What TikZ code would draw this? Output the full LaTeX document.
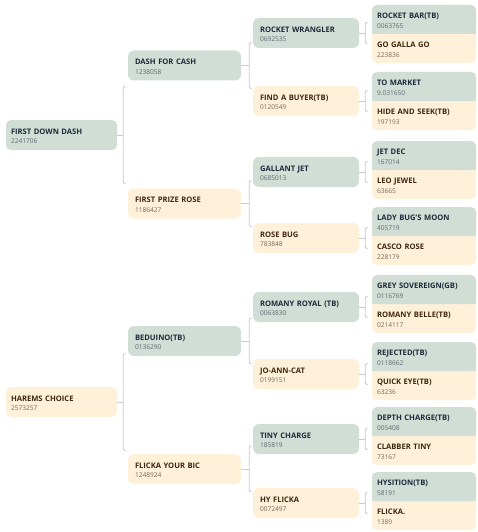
\documentclass[tikz,border=0pt]{standalone}
\usepackage{fontspec}
\setmainfont{Open Sans}
\usetikzlibrary{calc}
\definecolor{gfill}{RGB}{208,222,214}
\definecolor{bfill}{RGB}{255,240,218}
\definecolor{gname}{RGB}{30,42,58}
\definecolor{gnum}{RGB}{95,105,112}
\definecolor{bname}{RGB}{62,38,16}
\definecolor{bnum}{RGB}{120,104,88}
\definecolor{conncol}{RGB}{200,203,202}
\newcommand\hname[2]{\rule{0pt}{7.6pt}{\bfseries #1}\\{\fontsize{6.6}{9.5}\selectfont\color{\numcol}#2}}
\newcommand\hbracket[3]{%
  \draw[conn] (#1.east) -- ++(#2,0);
  \draw[conn, rounded corners=2] ($(#1.east)+(#2+2.5,-#3)$) -- ++(-2.5,0) -- ++(0,2*#3) -- ++(2.5,0);}
\newcommand\hpair[1]{%
  \fill[bfill, rounded corners=5] (372,#1-29) rectangle (476,#1+29);
  \fill[gfill, rounded corners=5] (372,#1-29) rectangle (476,#1);
  \fill[gfill] (372,#1-6) rectangle (476,#1);}
\begin{document}
\begin{tikzpicture}[x=1pt,y=-1pt,
  font=\fontsize{7.6}{9.5}\selectfont,
  conn/.style={draw=conncol, line width=0.9pt},
  gbox/.style={fill=gfill, text=gname, execute at begin node={\def\numcol{gnum}}},
  bbox/.style={fill=bfill, text=bname, execute at begin node={\def\numcol{bnum}}},
  gone/.style={rounded corners=5, align=left, minimum height=30, minimum width=111, text width=101, inner xsep=5},
  gtwo/.style={rounded corners=6, align=left, minimum height=30, minimum width=113, text width=99, inner xsep=7},
  gthree/.style={rounded corners=6, align=left, minimum height=30, minimum width=106, text width=92, inner xsep=7},
  gfour/.style={align=left, minimum height=29, minimum width=104, text width=94, inner xsep=5, fill=none},
]
\useasboundingbox (0,0) rectangle (477,532);

% generation 1
\node[gone, gbox] (fdd) at (61.5,135) {\hname{FIRST DOWN DASH}{2241706}};
\node[gone, bbox] (hc) at (61.5,402) {\hname{HAREMS CHOICE}{2573257}};

% generation 2
\node[gtwo, gbox] (dfc) at (184.5,65.5) {\hname{DASH FOR CASH}{1238058}};
\node[gtwo, bbox] (fpr) at (184.5,203.5) {\hname{FIRST PRIZE ROSE}{1186427}};
\node[gtwo, gbox] (bed) at (184.5,341) {\hname{BEDUINO(TB)}{0136290}};
\node[gtwo, bbox] (fyb) at (184.5,469) {\hname{FLICKA YOUR BIC}{1248924}};

% generation 3
\node[gthree, gbox] (rw) at (306,33) {\hname{ROCKET WRANGLER}{0692535}};
\node[gthree, bbox] (fab) at (306,101) {\hname{FIND A BUYER(TB)}{0120549}};
\node[gthree, gbox] (gj) at (306,172) {\hname{GALLANT JET}{0685013}};
\node[gthree, bbox] (rbug) at (306,238) {\hname{ROSE BUG}{783848}};
\node[gthree, gbox] (rr) at (306,307) {\hname{ROMANY ROYAL (TB)}{0063830}};
\node[gthree, bbox] (jac) at (306,374) {\hname{JO-ANN-CAT}{0199151}};
\node[gthree, gbox] (tc) at (306,439) {\hname{TINY CHARGE}{185819}};
\node[gthree, bbox] (hf) at (306,503) {\hname{HY FLICKA}{0072497}};

% generation 4 backgrounds
\hpair{34}
\hpair{101}
\hpair{170}
\hpair{236}
\hpair{304}
\hpair{371}
\hpair{436}
\hpair{501}

% generation 4
\node[gfour, gbox, fill=none] (rbar) at (424,19.5) {\hname{ROCKET BAR(TB)}{0063765}};
\node[gfour, bbox, fill=none] (ggg) at (424,48.5) {\hname{GO GALLA GO}{223836}};
\node[gfour, gbox, fill=none] (tm) at (424,86.5) {\hname{TO MARKET}{9.031650}};
\node[gfour, bbox, fill=none] (has) at (424,115.5) {\hname{HIDE AND SEEK(TB)}{197193}};
\node[gfour, gbox, fill=none] (jd) at (424,155.5) {\hname{JET DEC}{167014}};
\node[gfour, bbox, fill=none] (lj) at (424,184.5) {\hname{LEO JEWEL}{63665}};
\node[gfour, gbox, fill=none] (lbm) at (424,221.5) {\hname{LADY BUG'S MOON}{405719}};
\node[gfour, bbox, fill=none] (cr) at (424,250.5) {\hname{CASCO ROSE}{228179}};
\node[gfour, gbox, fill=none] (gs) at (424,289.5) {\hname{GREY SOVEREIGN(GB)}{0116769}};
\node[gfour, bbox, fill=none] (rbel) at (424,318.5) {\hname{ROMANY BELLE(TB)}{0214117}};
\node[gfour, gbox, fill=none] (rej) at (424,356.5) {\hname{REJECTED(TB)}{0118662}};
\node[gfour, bbox, fill=none] (qe) at (424,385.5) {\hname{QUICK EYE(TB)}{63236}};
\node[gfour, gbox, fill=none] (dc) at (424,421.5) {\hname{DEPTH CHARGE(TB)}{005408}};
\node[gfour, bbox, fill=none] (ct) at (424,450.5) {\hname{CLABBER TINY}{73167}};
\node[gfour, gbox, fill=none] (hys) at (424,486.5) {\hname{HYSITION(TB)}{58191}};
\node[gfour, bbox, fill=none] (fl) at (424,515.5) {\hname{FLICKA.}{1389}};

% connectors
\hbracket{fdd}{6}{48.5}
\hbracket{hc}{6}{48.5}
\hbracket{dfc}{8}{23}
\hbracket{fpr}{8}{23}
\hbracket{bed}{8}{23}
\hbracket{fyb}{8}{23}
\hbracket{rw}{6}{10.5}
\hbracket{fab}{6}{10.5}
\hbracket{gj}{6}{10.5}
\hbracket{rbug}{6}{10.5}
\hbracket{rr}{6}{10.5}
\hbracket{jac}{6}{10.5}
\hbracket{tc}{6}{10.5}
\hbracket{hf}{6}{10.5}
\end{tikzpicture}
\end{document}
